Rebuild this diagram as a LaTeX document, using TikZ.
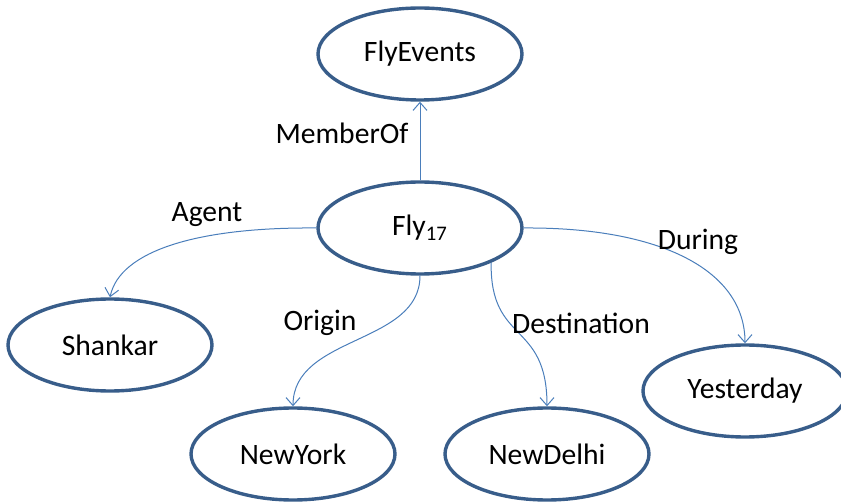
\documentclass[tikz,border=0pt]{standalone}
\usepackage{fontspec}
\setmainfont{Carlito}
\usetikzlibrary{arrows.meta,shapes.geometric}
\definecolor{nodeblue}{HTML}{385D8A}
\definecolor{linkblue}{HTML}{4A7EBB}
\tikzset{
  concept/.style={ellipse, draw=nodeblue, line width=1.7pt, fill=white,
    minimum width=102pt, minimum height=46pt, inner sep=0pt,
    font=\fontsize{14.8}{17}\selectfont},
  link/.style={draw=linkblue, line width=0.5pt,
    -{Straight Barb[length=4pt,width=7pt,line width=0.5pt]}},
  lbl/.style={font=\fontsize{14.8}{17}\selectfont, inner sep=0pt}
}
\begin{document}
\begin{tikzpicture}[x=0.5pt,y=-0.5pt]
\useasboundingbox (0,0) rectangle (841,502);
\node[concept] (flyevents) at (420,54) {FlyEvents};
\node[concept] (fly) at (420,228) {Fly\textsubscript{17}};
\node[concept] (shankar) at (110,345) {Shankar};
\node[concept] (newyork) at (293,454) {NewYork};
\node[concept] (newdelhi) at (547,454) {NewDelhi};
\node[concept] (yesterday) at (745,391) {Yesterday};

\draw[link] (fly.north) -- (flyevents.south);
\draw[link] (fly.west) .. controls (200,227) and (120,250) .. (shankar.north);
\draw[link] (fly.south) .. controls (420,345) and (293,335) .. (newyork.north);
\draw[link] (fly.-26) .. controls (490,345) and (547,320) .. (newdelhi.north);
\draw[link] (fly.east) .. controls (660,227) and (745,270) .. (yesterday.north);

\node[lbl] (l1) at (342,133) {MemberOf};
\node[lbl] (l2) at (207,215) {Agent};
\node[lbl] (l3) at (320,323) {Origin};
\node[lbl] (l4) at (581,323) {Destination};
\node[lbl] (l5) at (698,242) {During};
\end{tikzpicture}
\end{document}
